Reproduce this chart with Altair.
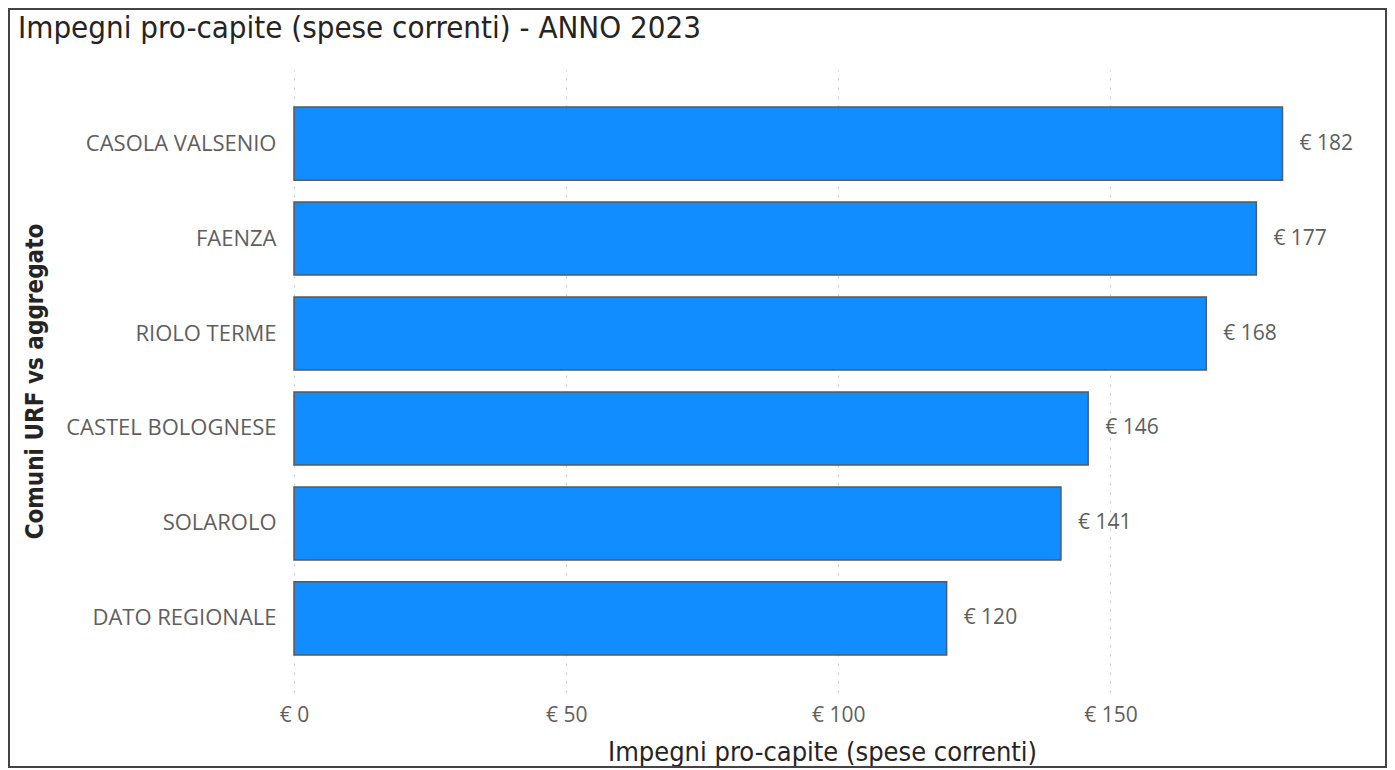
import altair as alt
import pandas as pd

# ---- data ----
comuni = ["CASOLA VALSENIO", "FAENZA", "RIOLO TERME", "CASTEL BOLOGNESE", "SOLAROLO", "DATO REGIONALE"]
valori = [181.6, 176.8, 167.6, 145.9, 140.9, 119.9]
x_ticks = [0, 50, 100, 150]
x_max = 194

titolo = "Impegni pro-capite (spese correnti) - ANNO 2023"
titolo_x = "Impegni pro-capite (spese correnti)"
titolo_y = "Comuni URF vs aggregato"

df = pd.DataFrame({"comune": comuni, "valore": valori})

W, H = 1056, 622
PAD_L, PAD_T, PAD_R, PAD_B = 286, 62, 37, 76

LABEL_FONT = "Open Sans"
TITLE_FONT = "DejaVu Sans Condensed"
GREY = "#605E5C"
DARK = "#252423"

y_enc = alt.Y(
    "comune:N",
    sort=comuni,
    scale=alt.Scale(paddingInner=0.23, paddingOuter=0.39),
    axis=alt.Axis(
        title=titolo_y,
        labelFont=LABEL_FONT,
        labelFontSize=22,
        labelColor=GREY,
        labelPadding=18,
        labelLimit=400,
        domain=False,
        ticks=False,
        grid=False,
        titleFont=TITLE_FONT,
        titleFontSize=24,
        titleFontWeight="bold",
        titleColor=DARK,
        titleAngle=-90,
        titleX=-259,
        titleY=H / 2,
        titleAlign="center",
        titleBaseline="middle",
    ),
)

x_enc = alt.X(
    "valore:Q",
    scale=alt.Scale(domain=[0, x_max], nice=False, zero=True),
    axis=alt.Axis(
        values=x_ticks,
        format=".0f",
        labelExpr="'€ ' + datum.label",
        labelFont=LABEL_FONT,
        labelFontSize=21,
        labelColor=GREY,
        labelPadding=12,
        labelFlush=False,
        domain=False,
        ticks=False,
        grid=True,
        gridColor="#c8c8c8",
        gridDash=[2, 7],
        gridWidth=1.2,
        title=titolo_x,
        titleFont=TITLE_FONT,
        titleFontSize=27,
        titleFontWeight="normal",
        titleColor=DARK,
        titleX=528,
        titleY=68,
        titleAlign="center",
        titleBaseline="alphabetic",
    ),
)

bars = alt.Chart(df).mark_bar(color="#118DFF", stroke="#5a5a5a", strokeWidth=1.5).encode(
    y=y_enc, x=x_enc
)

labels = alt.Chart(df).transform_calculate(
    testo="'€ ' + format(datum.valore, '.0f')"
).mark_text(
    align="left", baseline="middle", dx=17, font=LABEL_FONT, fontSize=21, color=GREY
).encode(
    y=alt.Y("comune:N", sort=comuni),
    x="valore:Q",
    text="testo:N",
)

border = alt.Chart(alt.Data(values=[{"b": 1}])).mark_rect(
    fill="transparent", stroke="#444444", strokeWidth=2
).encode(
    x=alt.value(-PAD_L + 1),
    x2=alt.value(W + PAD_R - 1),
    y=alt.value(-PAD_T + 1),
    y2=alt.value(H + PAD_B - 1),
)

chart = alt.layer(bars, labels, border).properties(
    width=W,
    height=H,
    autosize=alt.AutoSizeParams(type="none"),
    padding={"left": PAD_L, "top": PAD_T, "right": PAD_R, "bottom": PAD_B},
    title=alt.TitleParams(
        text=titolo,
        anchor="start",
        frame="group",
        dx=-276,
        offset=-61,
        baseline="alphabetic",
        font=TITLE_FONT,
        fontSize=31,
        fontWeight="normal",
        color=DARK,
    ),
).configure_view(stroke="transparent")

chart.save("out.html", embed_options={"renderer": "svg", "actions": False})
